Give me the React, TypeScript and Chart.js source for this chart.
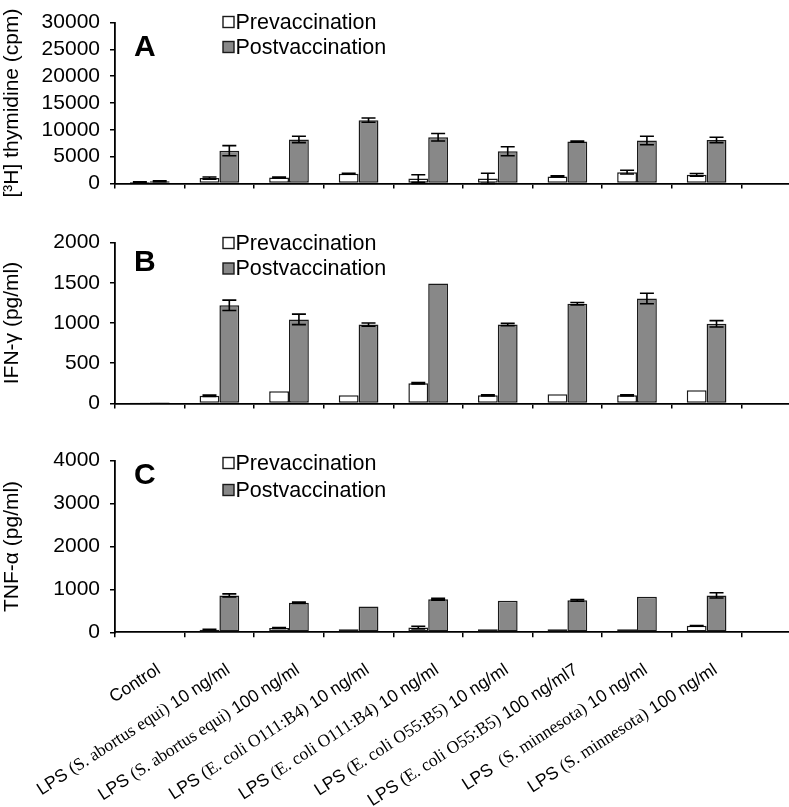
import React, { useEffect, useRef } from 'react';
import { Chart, registerables } from 'chart.js';

Chart.register(...registerables);

const categories = [
  'Control',
  'LPS (S. abortus equi) 10 ng/ml',
  'LPS (S. abortus equi) 100 ng/ml',
  'LPS (E. coli O111:B4) 10 ng/ml',
  'LPS (E. coli O111:B4) 10 ng/ml',
  'LPS (E. coli O55:B5) 10 ng/ml',
  'LPS (E. coli O55:B5) 100 ng/ml7',
  'LPS  (S. minnesota) 10 ng/ml',
  'LPS (S. minnesota) 100 ng/ml',
  '',
];
const seriesNames = ['Prevaccination', 'Postvaccination'];

// Panel A: [3H] thymidine (cpm)
const thymidinePre = [250, 1000, 1100, 1800, 900, 900, 1300, 2100, 1600, null];
const thymidinePreErr = [50, 200, 100, 100, 700, 1000, 100, 350, 250, null];
const thymidinePost = [400, 6100, 8200, 11800, 8600, 6000, 7800, 8000, 8100, null];
const thymidinePostErr = [100, 950, 600, 400, 700, 850, 100, 800, 500, null];
const thymidineTicks = { max: 30000, step: 5000 };

// Panel B: IFN-γ (pg/ml)
const ifnPre = [5, 95, 150, 100, 250, 100, 115, 100, 165, null];
const ifnPreErr = [0, 8, 0, 0, 8, 8, 0, 8, 0, null];
const ifnPost = [15, 1220, 1045, 980, 1490, 980, 1240, 1305, 990, null];
const ifnPostErr = [0, 65, 65, 20, 0, 15, 15, 65, 40, null];
const ifnTicks = { max: 2000, step: 500 };

// Panel C: TNF-α (pg/ml)
const tnfPre = [0, 60, 100, 70, 110, 70, 70, 70, 150, null];
const tnfPreErr = [0, 8, 8, 0, 30, 0, 0, 0, 8, null];
const tnfPost = [0, 860, 690, 600, 770, 735, 745, 830, 860, null];
const tnfPostErr = [0, 35, 15, 0, 20, 0, 20, 0, 60, null];
const tnfTicks = { max: 4000, step: 1000 };

const SANS = "'Liberation Sans', Arial, sans-serif";
const SERIF = "'Liberation Serif', 'Times New Roman', serif";
const CANVAS_W = 830;
const PLOT_LEFT = 115;
const PLOT_RIGHT = 811;
const FILL_COLORS = ['#ffffff', '#888888'];
const EDGE = '#1a1a1a';

type PanelCfg = {
  letter: string;
  title: string;
  pre: (number | null)[];
  preErr: (number | null)[];
  post: (number | null)[];
  postErr: (number | null)[];
  max: number;
  step: number;
  top: number;
  height: number;
  padTop: number;
  plotBottom: number;
  legendY: number;
  legendGap: number;
  letterY: number;
  showLabels: boolean;
};

const panels: PanelCfg[] = [
  {
    letter: 'A', title: '[³H] thymidine (cpm)',
    pre: thymidinePre, preErr: thymidinePreErr, post: thymidinePost, postErr: thymidinePostErr,
    max: thymidineTicks.max, step: thymidineTicks.step,
    top: 0, height: 206, padTop: 18, plotBottom: 193, legendY: 22, legendGap: 25, letterY: 48, showLabels: false,
  },
  {
    letter: 'B', title: 'IFN-γ (pg/ml)',
    pre: ifnPre, preErr: ifnPreErr, post: ifnPost, postErr: ifnPostErr,
    max: ifnTicks.max, step: ifnTicks.step,
    top: 220, height: 206, padTop: 17.5, plotBottom: 193.3, legendY: 23, legendGap: 25.5, letterY: 42.5, showLabels: false,
  },
  {
    letter: 'C', title: 'TNF-α (pg/ml)',
    pre: tnfPre, preErr: tnfPreErr, post: tnfPost, postErr: tnfPostErr,
    max: tnfTicks.max, step: tnfTicks.step,
    top: 438, height: 369, padTop: 18, plotBottom: 194.3, legendY: 25, legendGap: 27, letterY: 38, showLabels: true,
  },
];

function splitLabel(s: string): [string, string][] {
  const m = s.match(/^(LPS\s+)(\(.*?\))(.*)$/);
  if (!m) return [[s, SANS]];
  return [[m[1], SANS], [m[2], SERIF], [m[3], SANS]];
}

function Panel({ cfg }: { cfg: PanelCfg }) {
  const ref = useRef<HTMLCanvasElement | null>(null);
  useEffect(() => {
    const canvas = ref.current!;
    const errs = [cfg.preErr, cfg.postErr];

    const errorBars = {
      id: 'errorBars',
      afterDatasetsDraw(chart: any) {
        const ctx = chart.ctx;
        const ys = chart.scales.y;
        ctx.save();
        ctx.strokeStyle = '#000';
        ctx.lineWidth = 1.6;
        chart.data.datasets.forEach((ds: any, d: number) => {
          const meta = chart.getDatasetMeta(d);
          meta.data.forEach((el: any, i: number) => {
            const v = ds.data[i];
            const e = errs[d][i];
            if (v == null || !e) return;
            const x = el.x;
            const yT = ys.getPixelForValue(v + e);
            const yB = ys.getPixelForValue(Math.max(0, v - e));
            const cap = 7;
            ctx.beginPath();
            ctx.moveTo(x, yT); ctx.lineTo(x, yB);
            ctx.moveTo(x - cap, yT); ctx.lineTo(x + cap, yT);
            ctx.moveTo(x - cap, yB); ctx.lineTo(x + cap, yB);
            ctx.stroke();
          });
        });
        ctx.restore();
      },
    };

    const decor = {
      id: 'decor',
      afterDraw(chart: any) {
        const ctx = chart.ctx;
        ctx.save();
        // panel letter
        ctx.fillStyle = '#000';
        ctx.font = `bold 30px ${SANS}`;
        ctx.textAlign = 'left';
        ctx.textBaseline = 'middle';
        ctx.fillText(cfg.letter, 134, cfg.letterY);
        // legend
        ctx.font = `21.5px ${SANS}`;
        chart.data.datasets.forEach((ds: any, d: number) => {
          const cy = cfg.legendY + d * cfg.legendGap;
          ctx.fillStyle = ds.backgroundColor;
          ctx.fillRect(223, cy - 5.5, 11, 11);
          ctx.strokeStyle = EDGE;
          ctx.lineWidth = 1.4;
          ctx.strokeRect(223, cy - 5.5, 11, 11);
          ctx.fillStyle = '#000';
          ctx.fillText(ds.label, 235.5, cy + 1);
        });
        // category labels
        if (cfg.showLabels) {
          const xs = chart.scales.x;
          const ang = (33 * Math.PI) / 180;
          chart.data.labels.forEach((lab: string, i: number) => {
            if (!lab) return;
            const segs = splitLabel(lab);
            let total = 0;
            const widths = segs.map(([t, f]) => {
              ctx.font = `17.5px ${f}`;
              const w = ctx.measureText(t).width;
              total += w;
              return w;
            });
            const x = xs.getPixelForValue(i) + 9;
            const y = xs.top + 36;
            ctx.save();
            ctx.translate(x, y);
            ctx.rotate(-ang);
            ctx.textAlign = 'left';
            ctx.textBaseline = 'middle';
            ctx.fillStyle = '#000';
            let cur = -total;
            segs.forEach(([t, f], k) => {
              ctx.font = `17.5px ${f}`;
              ctx.fillText(t, cur, 0);
              cur += widths[k];
            });
            ctx.restore();
          });
        }
        ctx.restore();
      },
    };

    const chart = new Chart(canvas, {
      type: 'bar',
      data: {
        labels: categories,
        datasets: [
          {
            label: seriesNames[0], data: cfg.pre as any,
            backgroundColor: FILL_COLORS[0], borderColor: EDGE, borderWidth: 1.5, borderSkipped: false,
            categoryPercentage: 0.57, barPercentage: 1.0,
          },
          {
            label: seriesNames[1], data: cfg.post as any,
            backgroundColor: FILL_COLORS[1], borderColor: EDGE, borderWidth: 1.5, borderSkipped: false,
            categoryPercentage: 0.57, barPercentage: 1.0,
          },
        ],
      },
      options: {
        responsive: false,
        animation: false,
        events: [],
        layout: { padding: { top: cfg.padTop, right: CANVAS_W - PLOT_RIGHT, left: 0, bottom: 0 } },
        plugins: { legend: { display: false }, tooltip: { enabled: false } },
        scales: {
          x: {
            type: 'category',
            offset: true,
            grid: { display: true, offset: true, drawOnChartArea: false, drawTicks: true, tickLength: 5, color: '#000', lineWidth: 1.5 },
            border: { display: true, color: '#000', width: 1.8 },
            ticks: { display: false },
            afterFit: (s: any) => { s.height = cfg.height - cfg.plotBottom; },
          },
          y: {
            min: 0, max: cfg.max,
            grid: { display: true, drawOnChartArea: false, drawTicks: true, tickLength: 5, color: '#000', lineWidth: 1.5 },
            border: { display: true, color: '#000', width: 1.8 },
            ticks: {
              stepSize: cfg.step, color: '#000', padding: 10, font: { family: SANS, size: 21 },
              callback: (v: any) => String(v),
            },
            title: { display: true, text: cfg.title, color: '#000', padding: { top: 0, bottom: 0 }, font: { family: SANS, size: 21 } },
            afterFit: (s: any) => { s.width = PLOT_LEFT; },
          },
        },
      },
      plugins: [errorBars, decor],
    } as any);
    return () => chart.destroy();
  }, [cfg]);

  return (
    <canvas
      ref={ref}
      width={CANVAS_W}
      height={cfg.height}
      style={{ position: 'absolute', left: 0, top: cfg.top, width: CANVAS_W, height: cfg.height, display: 'block' }}
    />
  );
}

export default function App() {
  return (
    <div style={{ position: 'absolute', left: 0, top: 0, width: 789, height: 807, overflow: 'hidden', background: '#fff' }}>
      {panels.map((p) => (
        <Panel key={p.letter} cfg={p} />
      ))}
    </div>
  );
}
